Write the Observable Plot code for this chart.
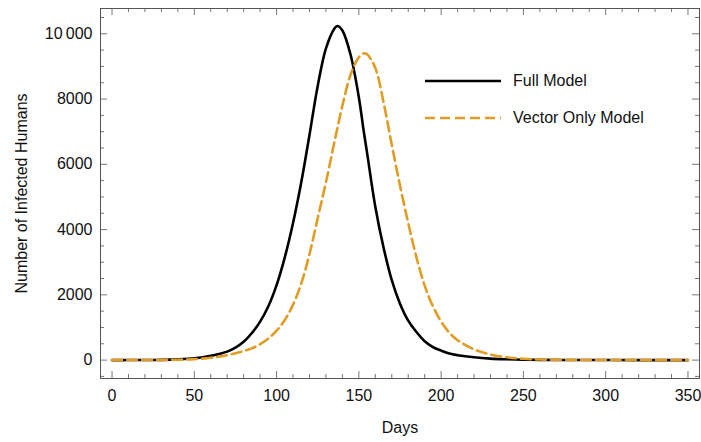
<!DOCTYPE html>
<html>
<head>
<meta charset="utf-8">
<script src="https://cdn.jsdelivr.net/npm/d3@7"></script>
<script src="https://cdn.jsdelivr.net/npm/@observablehq/plot@0.6"></script>
<style>
  html, body { margin: 0; padding: 0; background: #fff; }
  #wrap { position: relative; width: 701px; height: 442px; font-family: "Liberation Sans", Arial, sans-serif; }
  #legend { position: absolute; left: 424px; top: 62px; font-size: 16px; color: #111; }
  #legend .row { display: flex; align-items: center; height: 37px; }
  #legend svg { margin-right: 11px; }
</style>
</head>
<body>
<div id="wrap"></div>
<script>
const days       = [0, 10, 20, 30, 40, 50, 60, 65, 70, 75, 80, 85, 90, 95, 100, 105, 110, 115, 120, 125, 130, 135, 137, 140, 145, 150, 153, 155, 160, 165, 170, 175, 180, 185, 190, 195, 200, 205, 210, 220, 230, 240, 250, 260, 280, 300, 350];
const fullModel  = [0, 1, 3, 8, 22, 55, 130, 190, 260, 380, 560, 830, 1180, 1650, 2300, 3150, 4200, 5450, 6900, 8400, 9550, 10150, 10240, 10100, 9350, 8050, 7000, 6350, 4700, 3450, 2450, 1730, 1210, 860, 580, 400, 290, 200, 150, 85, 45, 25, 12, 6, 2, 1, 0];
const vectorOnly = [0, 1, 2, 5, 12, 30, 70, 105, 150, 210, 280, 360, 490, 660, 900, 1230, 1700, 2350, 3250, 4350, 5450, 6650, 7120, 7800, 8750, 9280, 9400, 9370, 8950, 7900, 6600, 5350, 4200, 3150, 2280, 1650, 1180, 840, 610, 330, 170, 85, 40, 20, 6, 2, 0];
const seriesNames = ["Full Model", "Vector Only Model"];
const xTickLabels = [0, 50, 100, 150, 200, 250, 300, 350];
const xMinorTicks = [10, 20, 30, 40, 60, 70, 80, 90, 110, 120, 130, 140, 160, 170, 180, 190, 210, 220, 230, 240, 260, 270, 280, 290, 310, 320, 330, 340];
const yTickLabels = [0, 2000, 4000, 6000, 8000, 10000];
const yMinorTicks = [-500, 500, 1000, 1500, 2500, 3000, 3500, 4500, 5000, 5500, 6500, 7000, 7500, 8500, 9000, 9500, 10500];

const W = 701, H = 442, mL = 100, mR = 2, mT = 8, mB = 64;
const fW = W - mL - mR, fH = H - mT - mB;
const colors = ["#000000", "#E19C24"];

const data = [];
days.forEach((d, i) => {
  data.push({day: d, value: fullModel[i], series: seriesNames[0]});
});
days.forEach((d, i) => {
  data.push({day: d, value: vectorOnly[i], series: seriesNames[1]});
});

const tickColor = "#777";
const chart = Plot.plot({
  width: W, height: H,
  marginLeft: mL, marginRight: mR, marginTop: mT, marginBottom: mB,
  style: {fontSize: "16px", fontFamily: "'Liberation Sans', Arial, sans-serif", color: "#111", background: "#fff"},
  x: {domain: [-7, 357]},
  y: {domain: [-564, 10775]},
  marks: [
    // ticks pointing inward on all four sides
    Plot.ruleX(xTickLabels, {stroke: tickColor, insetTop: fH - 7}),
    Plot.ruleX(xMinorTicks, {stroke: tickColor, insetTop: fH - 4}),
    Plot.ruleX(xTickLabels, {stroke: tickColor, insetBottom: fH - 7}),
    Plot.ruleX(xMinorTicks, {stroke: tickColor, insetBottom: fH - 4}),
    Plot.ruleY(yTickLabels, {stroke: tickColor, insetRight: fW - 7}),
    Plot.ruleY(yMinorTicks, {stroke: tickColor, insetRight: fW - 4}),
    Plot.ruleY(yTickLabels, {stroke: tickColor, insetLeft: fW - 7}),
    Plot.ruleY(yMinorTicks, {stroke: tickColor, insetLeft: fW - 4}),
    Plot.axisX({ticks: xTickLabels, tickSize: 0, tickPadding: 11, label: null}),
    Plot.axisY({ticks: yTickLabels, tickSize: 0, tickPadding: 8, label: null,
      tickFormat: d => d >= 10000 ? d3.format("d")(d).replace(/(\d)(\d{3})$/, "$1\u2009$2") : d3.format("d")(d)}),
    Plot.frame({stroke: "#555"}),
    Plot.line(data.filter(d => d.series === seriesNames[0]), {x: "day", y: "value", stroke: colors[0], strokeWidth: 2.6, curve: "catmull-rom"}),
    Plot.line(data.filter(d => d.series === seriesNames[1]), {x: "day", y: "value", stroke: colors[1], strokeWidth: 2.6, strokeDasharray: "10,5", curve: "catmull-rom"}),
    Plot.text(["Days"], {frameAnchor: "bottom", dy: 54, lineAnchor: "bottom", textAnchor: "middle", fill: "#111"}),
    Plot.text(["Number of Infected Humans"], {frameAnchor: "left", dx: -74, rotate: -90, lineAnchor: "bottom", textAnchor: "middle", fill: "#111"})
  ]
});

const wrap = document.getElementById("wrap");
wrap.appendChild(chart);

const legend = document.createElement("div");
legend.id = "legend";
seriesNames.forEach((name, i) => {
  const row = document.createElement("div");
  row.className = "row";
  const dash = i === 1 ? ' stroke-dasharray="10,5"' : '';
  row.innerHTML = `<svg width="78" height="6"><line x1="1" y1="3" x2="77" y2="3" stroke="${colors[i]}" stroke-width="2.6"${dash}/></svg><span>${name}</span>`;
  legend.appendChild(row);
});
wrap.appendChild(legend);
</script>
</body>
</html>
